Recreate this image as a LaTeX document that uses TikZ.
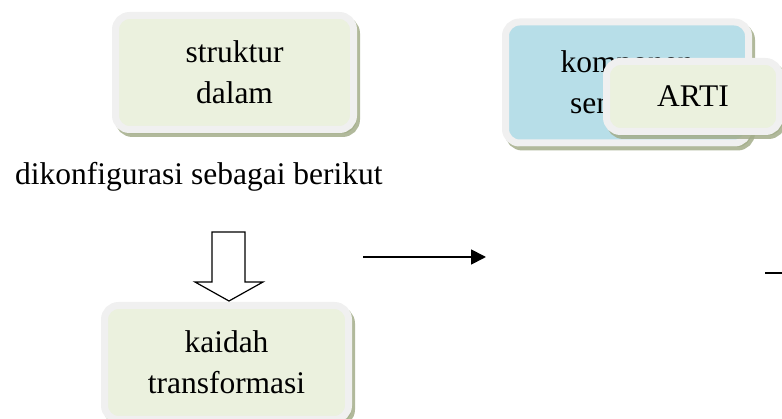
\documentclass[tikz,border=0pt]{standalone}
\usepackage{fontspec}
\setmainfont{Liberation Serif}
\usepackage{tikz}
\usetikzlibrary{arrows.meta, shadows}

\definecolor{boxgreen}{HTML}{EBF1DE}
\definecolor{boxblue}{HTML}{B7DEE8}
\definecolor{ringgray}{HTML}{F0F0F0}
\definecolor{shadowgreen}{HTML}{A3AD8A}

\begin{document}
\begin{tikzpicture}[x=1pt, y=-1pt,
      box/.style={draw=ringgray, line width=7pt, rounded corners=14pt,
                  fill=boxgreen, align=center, inner sep=0pt,
                  font=\fontsize{31.5}{41}\selectfont,
                  drop shadow={shadow xshift=3pt, shadow yshift=-4pt,
                               fill=shadowgreen, draw=shadowgreen,
                               line width=7pt, opacity=.85}},
      arrow/.style={-{Triangle[length=15pt,width=15pt]}, line width=1.8pt},
      hollow/.style={draw, line width=1.2pt, fill=white, line join=miter}]

    \useasboundingbox (0,0) rectangle (782,419);

    \node[box, minimum width=238pt, minimum height=114pt]
          (deep) at (234.5,72.5) {struktur\\dalam};
    \node[box, fill=boxblue, minimum width=243pt, minimum height=121pt]
          (sem) at (627,82.5) {komponen\\semantik};
    \node[box, minimum width=173pt, minimum height=70pt]
          (arti) at (693,96.5) {ARTI};
    \node[box, minimum width=244pt, minimum height=114pt]
          (rule) at (226.5,362.5) {kaidah\\transformasi};

    \node[anchor=base west, inner sep=0pt, font=\fontsize{31.5}{41}\selectfont]
          (conf) at (15,185) {dikonfigurasi sebagai berikut};

    % block arrow down
    \draw[hollow] (212,232) -- (245,232) -- (245,282) -- (263,282)
                  -- (229,301) -- (195,282) -- (212,282) -- cycle;

    \coordinate (p1) at (363,257);
    \coordinate (p2) at (486,257);
    \draw[arrow] (p1) -- (p2);

    \coordinate (q1) at (765,273);
    \coordinate (q2) at (800,273);
    \draw[line width=1.8pt] (q1) -- (q2);
\end{tikzpicture}
\end{document}
